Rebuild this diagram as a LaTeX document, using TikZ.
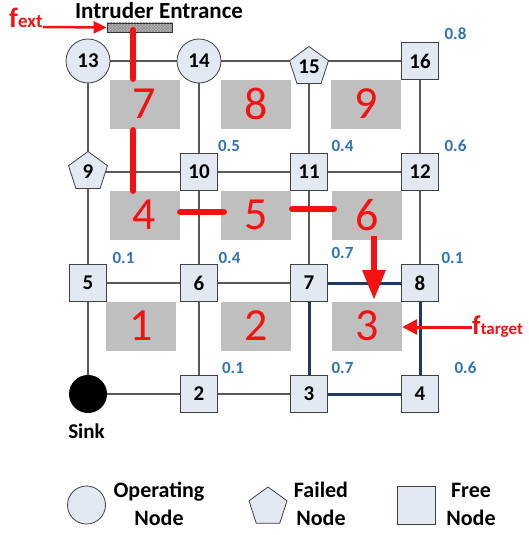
\documentclass[tikz,border=0pt]{standalone}
\usepackage{fontspec}
\setmainfont{Carlito}
\usetikzlibrary{shapes.geometric,patterns,arrows.meta}
\definecolor{nodefill}{HTML}{E2E9F3}
\definecolor{edgegray}{HTML}{595959}
\definecolor{regiongray}{HTML}{BFBFBF}
\definecolor{myred}{HTML}{F21212}
\definecolor{valblue}{HTML}{2E75B6}
\definecolor{navyline}{HTML}{1F3864}
\pgfdeclarelayer{bg}
\pgfsetlayers{bg,main}
\begin{document}
\begin{tikzpicture}[x=1pt,y=-1pt,
  numfont/.style={font=\fontsize{21}{21}\selectfont\bfseries},
  opnode/.style={circle,draw=black!75,fill=nodefill,minimum size=44pt,inner sep=0pt,line width=0.8pt,numfont},
  failnode/.style={regular polygon,regular polygon sides=5,draw=black!75,fill=nodefill,minimum size=41pt,inner sep=0pt,line width=0.8pt,numfont},
  freenode/.style={rectangle,draw=black!75,fill=nodefill,minimum size=37pt,inner sep=0pt,line width=0.8pt,numfont},
  sinknode/.style={circle,fill=black,minimum size=38pt,inner sep=0pt},
  region/.style={fill=regiongray,minimum width=70pt,minimum height=49pt,inner sep=0pt,text=myred,font=\fontsize{46}{46}\selectfont},
  val/.style={text=valblue,font=\fontsize{17}{17}\selectfont\bfseries,inner sep=0pt},
  edge/.style={draw=edgegray,line width=1.1pt},
  pathedge/.style={draw=navyline,line width=3pt},
  intrude/.style={draw=myred,line width=6pt,line cap=round},
  legtext/.style={font=\fontsize{22}{28}\selectfont\bfseries,align=center,inner sep=0pt},
]
\useasboundingbox (0,0) rectangle (528,535);

% regions
\node[region] (r7) at (144.5,104) {7};
\node[region] (r8) at (256,104) {8};
\node[region] (r9) at (366,104) {9};
\node[region] (r4) at (144.5,215) {4};
\node[region] (r5) at (256,215) {5};
\node[region] (r6) at (367,215) {6};
\node[region] (r1) at (141,326) {1};
\node[region] (r2) at (256,326) {2};
\node[region] (r3) at (367,326) {3};

% nodes
\node[opnode] (n13) at (88,61) {13};
\node[opnode] (n14) at (199,61) {14};
\node[failnode] (n15) at (309,67) {15};
\node[freenode] (n16) at (420,61) {16};
\node[failnode] (n9) at (88,172) {9};
\node[freenode] (n10) at (199,172) {10};
\node[freenode] (n11) at (309,172) {11};
\node[freenode] (n12) at (420,172) {12};
\node[freenode] (n5) at (88,283) {5};
\node[freenode] (n6) at (199,283) {6};
\node[freenode] (n7) at (309,283) {7};
\node[freenode] (n8) at (420,283) {8};
\node[sinknode] (sink) at (88,394) {};
\node[freenode] (n2) at (199,394) {2};
\node[freenode] (n3) at (309,394) {3};
\node[freenode] (n4) at (420,394) {4};

% grid edges
\begin{pgfonlayer}{bg}
\draw[edge] (n13.center) -- (n16.center);
\draw[edge] (n9.center) -- (n12.center);
\draw[edge] (n5.center) -- (n7.center);
\draw[edge] (sink.center) -- (n3.center);
\draw[edge] (n13.center) -- (sink.center);
\draw[edge] (n14.center) -- (n2.center);
\draw[edge] (n15.center) -- (n7.center);
\draw[edge] (n16.center) -- (n8.center);
\end{pgfonlayer}

% highlighted cycle
\draw[pathedge] (n7) -- (n8);
\draw[pathedge] (n7) -- (n3);
\draw[pathedge] (n8) -- (n4);
\draw[pathedge] (n3) -- (n4);

% values
\node[val] (v16) at (455.5,34) {0.8};
\node[val] (v10) at (229,146) {0.5};
\node[val] (v11) at (342.5,146) {0.4};
\node[val] (v12) at (455.5,146) {0.6};
\node[val] (v5) at (123.5,257.5) {0.1};
\node[val] (v6) at (229.5,257.5) {0.4};
\node[val] (v7) at (342.5,253) {0.7};
\node[val] (v8) at (452.5,257.5) {0.1};
\node[val] (v2) at (233,367.5) {0.1};
\node[val] (v3) at (342.5,367.5) {0.7};
\node[val] (v4) at (465.5,367.5) {0.6};

% sink label
\node[font=\fontsize{21}{21}\selectfont\bfseries,anchor=base,inner sep=0pt] (sinklbl) at (86.5,438) {Sink};

% intruder entrance
\node[font=\fontsize{23}{23}\selectfont\bfseries,anchor=base,inner sep=0pt] (entrlbl) at (159,18.5) {Intruder Entrance};
\node[draw=black!80,line width=0.8pt,preaction={fill=gray!55},pattern=crosshatch,pattern color=black!45,minimum width=65pt,minimum height=9pt,inner sep=0pt] (entrance) at (139.5,27.5) {};

% f_ext
\node[text=myred,font=\bfseries,anchor=base west,inner sep=0pt] (fext) at (9,28) {{\fontsize{28}{28}\selectfont f}{\fontsize{19}{19}\selectfont ext}};
\draw[myred,line width=2.5pt,-{Triangle[length=13pt,width=12pt]}] (fext.east |- 0,27) -- (entrance.west);

% intruder path
\coordinate (p1) at (133,30);
\coordinate (p2) at (133,79);
\coordinate (p3) at (133,130);
\coordinate (p4) at (133,191);
\draw[intrude] (p1) -- (p2);
\draw[intrude] (p3) -- (p4);
\coordinate (h1) at (180,212);
\coordinate (h2) at (224,212);
\coordinate (h3) at (292,209);
\coordinate (h4) at (334,209);
\draw[intrude] (h1) -- (h2);
\draw[intrude] (h3) -- (h4);
\coordinate (a1) at (374,236);
\coordinate (a2) at (374,300);
\draw[myred,line width=6pt,-{Triangle[length=30pt,width=22pt]}] (a1) -- (a2);

% f_target
\node[text=myred,font=\bfseries,anchor=base west,inner sep=0pt] (ftarget) at (472,334) {{\fontsize{27}{27}\selectfont f}{\fontsize{17}{17}\selectfont target}};
\draw[myred,line width=3pt,-{Triangle[length=15pt,width=15pt]}] (ftarget.west |- 0,327) -- (r3.east |- 0,327);

% legend
\node[circle,draw=black!75,fill=nodefill,minimum size=38pt,inner sep=0pt,line width=0.8pt] (lgop) at (86.5,505) {};
\node[legtext] (lgoptxt) at (159,503.5) {Operating\\Node};
\node[regular polygon,regular polygon sides=5,draw=black!75,fill=nodefill,minimum size=40pt,inner sep=0pt,line width=0.8pt] (lgfail) at (268,507) {};
\node[legtext] (lgfailtxt) at (321,504) {Failed\\Node};
\node[rectangle,draw=black!75,fill=nodefill,minimum size=38pt,inner sep=0pt,line width=0.8pt] (lgfree) at (416,505) {};
\node[legtext] (lgfreetxt) at (471,504) {Free\\Node};
\end{tikzpicture}
\end{document}
